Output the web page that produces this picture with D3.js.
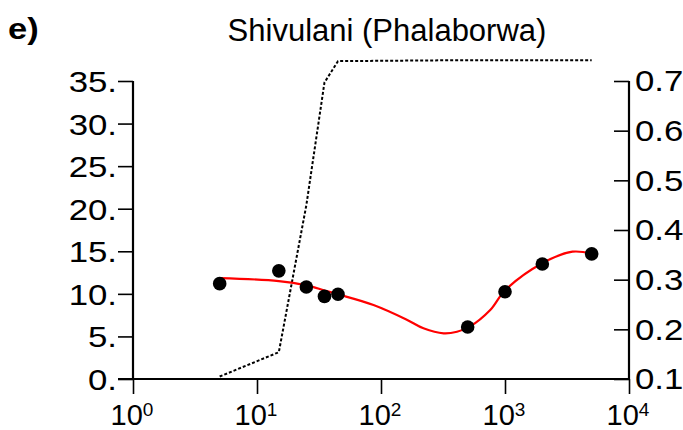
<!DOCTYPE html>
<html>
<head>
<meta charset="utf-8">
<script src="https://d3js.org/d3.v7.min.js"></script>
<style>
  body { margin: 0; background: #fff; }
  svg { display: block; font-family: "Liberation Sans", Arial, sans-serif; }
</style>
</head>
<body>
<svg id="chart" width="683" height="430"></svg>
<script>
// measured samples
const depths = [5, 15, 25, 35, 45, 500, 1000, 2000, 5000];
const values = [11.2, 12.7, 10.8, 9.7, 9.95, 6.1, 10.25, 13.5, 14.7];
const rightValues = [0.105, 0.154, 0.45, 0.697, 0.74, 0.742, 0.742, 0.742, 0.742];

// fitted curve
const fitDepths = [5, 15, 25, 35, 45, 87, 160, 220, 320, 410, 520, 760, 1000, 2000, 3500, 5000];
const fitValues = [11.85, 11.5, 11.0, 10.4, 9.95, 8.7, 7.0, 5.95, 5.36, 5.55, 6.15, 8.1, 10.4, 13.6, 14.95, 14.7];

const xTicks = [0, 1, 2, 3, 4];
const leftTicks = [0, 5, 10, 15, 20, 25, 30, 35];
const rightTicks = [0.1, 0.2, 0.3, 0.4, 0.5, 0.6, 0.7];

const svg = d3.select('#chart');
const mLeft = 133, mRight = 629, mTop = 81, mBottom = 379;

const x = d3.scaleLog().domain([1, 1e4]).range([mLeft, mRight]);
const y = d3.scaleLinear().domain([0, 35]).range([mBottom, mTop]);
const y2 = d3.scaleLinear().domain([0.1, 0.7]).range([mBottom, mTop]);

const fs = 29;
const stretch = 1.2; // y labels in the original are wider than normal

// left axis
const yAxis = d3.axisLeft(y).tickValues(leftTicks).tickSize(15).tickPadding(2)
  .tickFormat(d => d + '.');
const gy = svg.append('g').attr('transform', `translate(${mLeft},0)`).call(yAxis);

// right axis
const y2Axis = d3.axisRight(y2).tickValues(rightTicks).tickSize(-15).tickPadding(6)
  .tickFormat(d3.format('.1f'));
const gy2 = svg.append('g').attr('transform', `translate(${mRight},0)`).call(y2Axis);

// bottom axis
const xAxis = d3.axisBottom(x).tickValues(xTicks.map(p => Math.pow(10, p))).tickSize(15)
  .tickFormat('');
const gx = svg.append('g').attr('transform', `translate(0,${mBottom})`).call(xAxis);

[gy, gy2, gx].forEach(g => {
  g.select('.domain').attr('stroke', '#000').attr('stroke-width', 2.2);
  g.selectAll('.tick line').attr('stroke', '#000').attr('stroke-width', 1.6);
  g.selectAll('.tick text').attr('fill', '#000').attr('font-size', fs)
    .attr('font-family', '"Liberation Sans", Arial, sans-serif');
});
gx.select('.domain').attr('d', `M${mLeft - 15},0H${mRight}`);
gy.select('.domain').attr('d', `M0,${mTop}V${mBottom}`);
gy2.select('.domain').attr('d', `M0,${mTop}V${mBottom}`);
gy.selectAll('.tick text').attr('dy', '0.36em')
  .attr('x', -16 / stretch).attr('transform', `scale(${stretch},1)`);
gy2.selectAll('.tick text').attr('dy', '0.34em')
  .attr('x', 6 / stretch).attr('transform', `scale(${stretch},1)`);

// power-of-ten labels
const lab = svg.append('g').selectAll('text').data(xTicks).join('text')
  .attr('x', d => x(Math.pow(10, d)) - 1)
  .attr('y', 425)
  .attr('text-anchor', 'middle')
  .attr('font-size', fs)
  .attr('fill', '#000');
lab.append('tspan').text('10');
lab.append('tspan').attr('font-size', 19).attr('dy', -9).text(d => d);

// dotted line on right scale
svg.append('path')
  .datum(depths.map((d, i) => [d, rightValues[i]]))
  .attr('fill', 'none')
  .attr('stroke', '#000')
  .attr('stroke-width', 2)
  .attr('stroke-dasharray', '3,2')
  .attr('d', d3.line().x(d => x(d[0])).y(d => y2(d[1])));

// fitted curve
svg.append('path')
  .datum(fitDepths.map((d, i) => [d, fitValues[i]]))
  .attr('fill', 'none')
  .attr('stroke', '#ff0000')
  .attr('stroke-width', 2.2)
  .attr('d', d3.line().x(d => x(d[0])).y(d => y(d[1])).curve(d3.curveCatmullRom));

// points
svg.append('g').selectAll('circle').data(depths).join('circle')
  .attr('cx', d => x(d))
  .attr('cy', (d, i) => y(values[i]))
  .attr('r', 6.8)
  .attr('fill', '#000');

// title and panel letter
svg.append('text').attr('x', 387).attr('y', 41).attr('text-anchor', 'middle')
  .attr('font-size', 31).attr('fill', '#000').text('Shivulani (Phalaborwa)');
svg.append('text').attr('x', 8 / 1.15).attr('y', 39).attr('transform', 'scale(1.15,1)')
  .attr('font-size', 30).attr('font-weight', 'bold').attr('fill', '#000').text('e)');
</script>
</body>
</html>
